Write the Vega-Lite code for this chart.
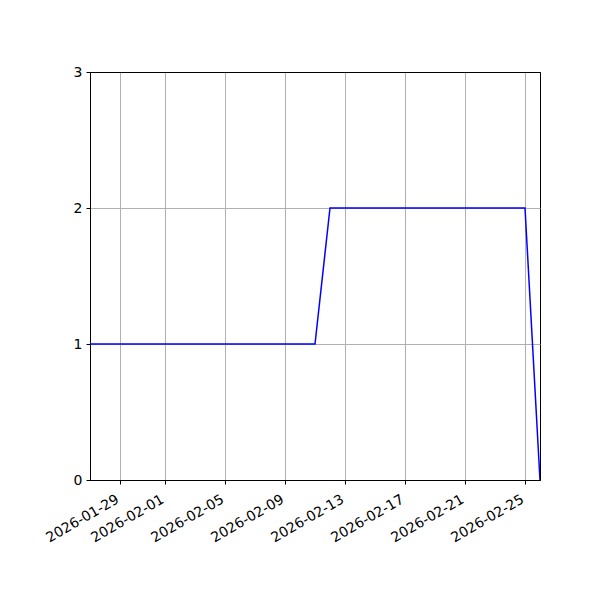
{
  "$schema": "https://vega.github.io/schema/vega-lite/v6.json",
  "width": 450,
  "height": 408,
  "autosize": {"type": "none"},
  "padding": {"left": 90, "top": 72, "right": 60, "bottom": 120},
  "background": "white",
  "config": {
    "view": {"stroke": "black", "strokeWidth": 1},
    "font": "DejaVu Sans",
    "axis": {
      "labelFont": "DejaVu Sans",
      "labelFontSize": 14,
      "labelColor": "black",
      "domain": true,
      "domainColor": "black",
      "domainWidth": 1,
      "tickColor": "black",
      "tickSize": 4,
      "tickWidth": 1,
      "gridColor": "#b0b0b0",
      "gridWidth": 1,
      "gridOpacity": 1,
      "title": null
    }
  },
  "data": {
    "values": [
      {"date": "2026-01-27", "value": 1},
      {"date": "2026-01-28", "value": 1},
      {"date": "2026-01-29", "value": 1},
      {"date": "2026-01-30", "value": 1},
      {"date": "2026-01-31", "value": 1},
      {"date": "2026-02-01", "value": 1},
      {"date": "2026-02-02", "value": 1},
      {"date": "2026-02-03", "value": 1},
      {"date": "2026-02-04", "value": 1},
      {"date": "2026-02-05", "value": 1},
      {"date": "2026-02-06", "value": 1},
      {"date": "2026-02-07", "value": 1},
      {"date": "2026-02-08", "value": 1},
      {"date": "2026-02-09", "value": 1},
      {"date": "2026-02-10", "value": 1},
      {"date": "2026-02-11", "value": 1},
      {"date": "2026-02-12", "value": 2},
      {"date": "2026-02-13", "value": 2},
      {"date": "2026-02-14", "value": 2},
      {"date": "2026-02-15", "value": 2},
      {"date": "2026-02-16", "value": 2},
      {"date": "2026-02-17", "value": 2},
      {"date": "2026-02-18", "value": 2},
      {"date": "2026-02-19", "value": 2},
      {"date": "2026-02-20", "value": 2},
      {"date": "2026-02-21", "value": 2},
      {"date": "2026-02-22", "value": 2},
      {"date": "2026-02-23", "value": 2},
      {"date": "2026-02-24", "value": 2},
      {"date": "2026-02-25", "value": 2},
      {"date": "2026-02-26", "value": 0}
    ]
  },
  "mark": {"type": "line", "color": "#0000ff", "strokeWidth": 1.5, "clip": true},
  "encoding": {
    "x": {
      "field": "date",
      "type": "temporal",
      "scale": {
        "type": "utc",
        "domain": [
          {"year": 2026, "month": 1, "date": 27, "utc": true},
          {"year": 2026, "month": 2, "date": 26, "utc": true}
        ]
      },
      "axis": {
        "values": [
          {"year": 2026, "month": 1, "date": 29, "utc": true},
          {"year": 2026, "month": 2, "date": 1, "utc": true},
          {"year": 2026, "month": 2, "date": 5, "utc": true},
          {"year": 2026, "month": 2, "date": 9, "utc": true},
          {"year": 2026, "month": 2, "date": 13, "utc": true},
          {"year": 2026, "month": 2, "date": 17, "utc": true},
          {"year": 2026, "month": 2, "date": 21, "utc": true},
          {"year": 2026, "month": 2, "date": 25, "utc": true}
        ],
        "labelExpr": "utcFormat(datum.value, '%Y-%m-%d')",
        "labelAngle": -30,
        "labelAlign": "right",
        "labelBaseline": "top",
        "labelPadding": 8,
        "labelOffset": -6,
        "labelFlush": false,
        "labelOverlap": false
      }
    },
    "y": {
      "field": "value",
      "type": "quantitative",
      "scale": {"domain": [0, 3], "nice": false, "zero": true},
      "axis": {
        "values": [0, 1, 2, 3],
        "format": "d",
        "labelPadding": 4,
        "gridColor": {"condition": {"test": "datum.value === 3 || datum.value === 0", "value": "black"}, "value": "#b0b0b0"}
      }
    }
  }
}
